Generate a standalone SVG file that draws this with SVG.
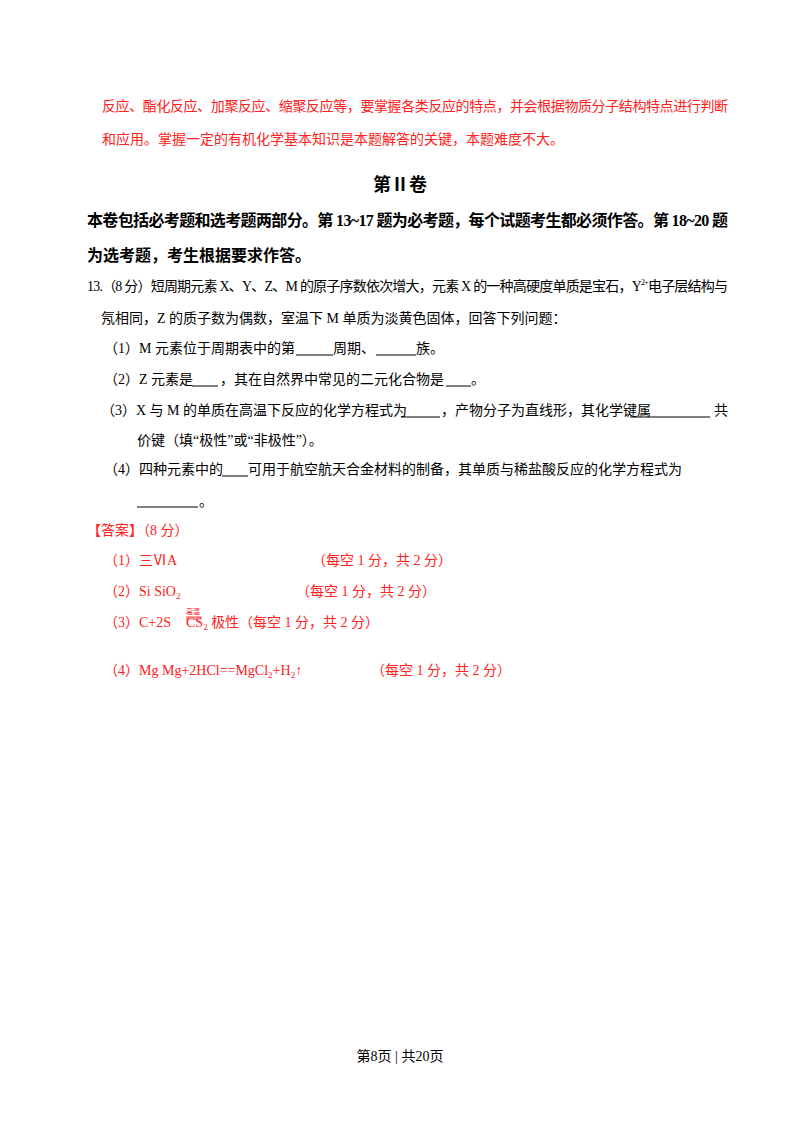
<svg xmlns="http://www.w3.org/2000/svg" width="800" height="1132" viewBox="0 0 800 1132">
<style>
text{font-family:"Liberation Serif","Noto Sans CJK SC",serif;font-size:14px;fill:#000}
.r{fill:#ff2020}
.b{font-weight:bold;font-size:16px}
.u{stroke:#000;stroke-width:1}
</style>
<rect width="800" height="1132" fill="#fff"/>
<text class="r" x="102" y="111" textLength="626" lengthAdjust="spacing">反应、酯化反应、加聚反应、缩聚反应等，要掌握各类反应的特点，并会根据物质分子结构特点进行判断</text>
<text class="r" x="102" y="144">和应用。掌握一定的有机化学基本知识是本题解答的关键，本题难度不大。</text>
<text x="400" y="191" text-anchor="middle" style="font-weight:bold;font-size:18px">第Ⅱ卷</text>
<text class="b" x="87" y="226" textLength="641" lengthAdjust="spacing">本卷包括必考题和选考题两部分。第 13~17 题为必考题，每个试题考生都必须作答。第 18~20 题</text>
<text class="b" x="87" y="261">为选考题，考生根据要求作答。</text>
<text x="87" y="291" textLength="641" lengthAdjust="spacing">13.（8 分）短周期元素 X、Y、Z、M 的原子序数依次增大，元素 X 的一种高硬度单质是宝石，Y<tspan font-size="8" dy="-6">2+</tspan><tspan dy="6">电子层结构与</tspan></text>
<text x="101" y="323">氖相同，Z 的质子数为偶数，室温下 M 单质为淡黄色固体，回答下列问题：</text>
<text x="104" y="353">（1）M 元素位于周期表中的第<tspan x="333">周期、</tspan><tspan x="416">族。</tspan></text>
<line class="u" x1="296" y1="355" x2="333" y2="355"/><line class="u" x1="376" y1="355" x2="416" y2="355"/>
<text x="104" y="384">（2）Z 元素是<tspan x="220">，其在自然界中常见的二元化合物是</tspan><tspan x="471">。</tspan></text>
<line class="u" x1="192" y1="386" x2="218" y2="386"/><line class="u" x1="446" y1="386" x2="471" y2="386"/>
<text x="101" y="415">（3）X 与 M 的单质在高温下反应的化学方程式为<tspan x="441">，产物分子为直线形，其化学键属</tspan><tspan x="714">共</tspan></text>
<line class="u" x1="401" y1="417" x2="440" y2="417"/><line class="u" x1="630" y1="417" x2="710" y2="417"/>
<text x="137" y="445">价键（填“极性”或“非极性”）。</text>
<text x="104" y="474">（4）四种元素中的<tspan x="248">可用于航空航天合金材料的制备，其单质与稀盐酸反应的化学方程式为</tspan></text>
<line class="u" x1="222" y1="476" x2="248" y2="476"/>
<line class="u" x1="137" y1="507" x2="198" y2="507"/>
<text x="199" y="506">。</text>
<text class="r" x="87" y="535">【答案】（8 分）</text>
<text class="r" x="104" y="565">（1）三ⅥA<tspan x="312">（每空 1 分，共 2 分）</tspan></text>
<text class="r" x="104" y="596">（2）Si  SiO<tspan font-size="9" dy="3">2</tspan><tspan x="296" dy="-3">（每空 1 分，共 2 分）</tspan></text>
<text class="r" x="104" y="627">（3）C+2S<tspan x="186" font-size="7" dy="-13">高温</tspan><tspan x="186" dy="13">CS</tspan><tspan font-size="9" dy="3">2</tspan><tspan dy="-3">  极性（每空 1 分，共 2 分）</tspan></text>
<line x1="186" y1="617" x2="201" y2="617" stroke="#ff2020" stroke-width="0.8"/>
<line x1="186" y1="619" x2="201" y2="619" stroke="#ff2020" stroke-width="0.8"/>
<text class="r" x="104" y="675">（4）Mg   Mg+2HCl==MgCl<tspan font-size="9" dy="3">2</tspan><tspan dy="-3">+H</tspan><tspan font-size="9" dy="3">2</tspan><tspan dy="-3">↑</tspan><tspan x="371">（每空 1 分，共 2 分）</tspan></text>
<text x="400" y="1061" text-anchor="middle" font-size="13">第8页  | 共20页</text>
</svg>
